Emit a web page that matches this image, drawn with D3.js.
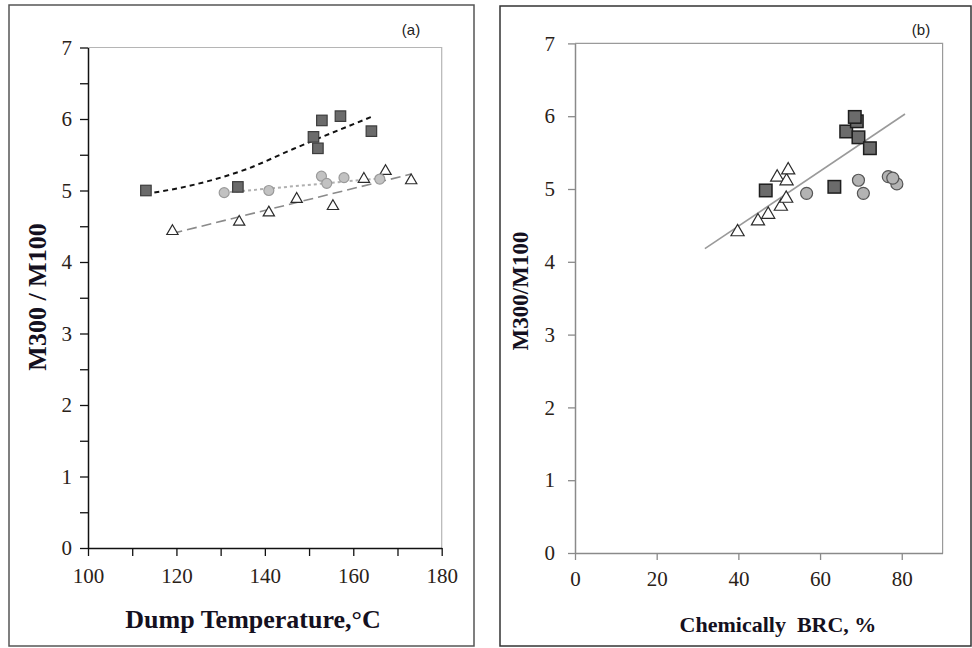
<!DOCTYPE html>
<html>
<head>
<meta charset="utf-8">
<script src="https://cdn.jsdelivr.net/npm/d3@7/dist/d3.min.js"></script>
<style>
  body { margin: 0; background: #fff; }
  text { font-family: "Liberation Serif", "Times New Roman", serif; }
</style>
</head>
<body>
<svg id="chart" width="972" height="648"></svg>
<script>
//Panel (a): M300/M100 against dump temperature
var tempTicks = [100, 110, 120, 130, 140, 150, 160, 170, 180];
var tempSquares = [[113.1, 5.00], [133.9, 5.05], [151.0, 5.75], [152.0, 5.59], [152.9, 5.98], [157.1, 6.04], [164.1, 5.83]];
var tempCircles = [[130.8, 4.97], [140.9, 5.00], [152.8, 5.20], [154.0, 5.10], [157.9, 5.18], [166.0, 5.16]];
var tempTriangles = [[119.1, 4.43], [134.2, 4.56], [140.9, 4.69], [147.2, 4.88], [155.4, 4.78], [162.4, 5.16], [167.3, 5.27], [173.1, 5.14]];
//trend lines
var tempSquareTrend = [[113.0, 4.95], [124.6, 5.09], [135.9, 5.30], [146.4, 5.58], [158.5, 5.89], [164.1, 6.03]];
var tempCircleTrend = [[130.8, 4.97], [166.0, 5.17]];
var tempTriangleTrend = [[119.1, 4.40], [173.1, 5.23]];

//Panel (b): M300/M100 against chemically bound rubber content
var brcTicks = [0, 20, 40, 60, 80];
var brcSquares = [[46.7, 4.98], [63.5, 5.03], [66.4, 5.79], [69.0, 5.93], [68.5, 5.99], [69.4, 5.71], [72.2, 5.56]];
var brcCircles = [[56.7, 4.94], [69.4, 5.12], [70.6, 4.94], [76.7, 5.17], [78.8, 5.07], [77.8, 5.15]];
var brcTriangles = [[39.8, 4.41], [44.8, 4.56], [47.3, 4.65], [50.4, 4.76], [51.7, 4.87], [49.5, 5.16], [51.8, 5.11], [52.2, 5.26]];
var brcTrend = [[31.8, 4.18], [80.8, 6.03]];

var ratioTicks = [0, 1, 2, 3, 4, 5, 6, 7];
var ratioHalfTicks = d3.range(0, 7.01, 0.5);

var svg = d3.select('#chart');

//Draw one panel
function drawPanel(p) {
  var g = svg.append('g');

  //outer frame
  g.append('rect')
    .attr('x', p.frame[0]).attr('y', p.frame[1])
    .attr('width', p.frame[2]).attr('height', p.frame[3])
    .attr('fill', 'none')
    .attr('stroke', p.frameColor)
    .attr('stroke-width', 1.5);

  var x = d3.scaleLinear().domain(p.xDomain).range(p.xRange);
  var y = d3.scaleLinear().domain([0, 7]).range(p.yRange);

  //top and right border of the plot area
  g.append('path')
    .attr('d', 'M' + x(p.xDomain[0]) + ',' + y(7) + 'H' + x(p.xDomain[1]) + 'V' + y(0))
    .attr('fill', 'none')
    .attr('stroke', p.boxColor)
    .attr('stroke-width', 1.2);

  //axes
  var xAxis = d3.axisBottom(x)
    .tickValues(p.xTicks)
    .tickFormat(function(d) { return d % 20 === 0 ? d : ''; })
    .tickSize(p.tickLen)
    .tickPadding(p.xPad)
    .tickSizeOuter(0);
  var yAxis = d3.axisLeft(y)
    .tickValues(p.yTicks)
    .tickFormat(function(d) { return d % 1 === 0 ? d : ''; })
    .tickSize(p.tickLen)
    .tickPadding(p.yPad)
    .tickSizeOuter(0);

  var gx = g.append('g').attr('transform', 'translate(0,' + y(0) + ')').call(xAxis);
  var gy = g.append('g').attr('transform', 'translate(' + x(p.xDomain[0]) + ',0)').call(yAxis);
  [gx, gy].forEach(function(a) {
    a.attr('font-family', 'Liberation Serif').attr('font-size', p.tickFont);
    a.select('.domain').attr('stroke', p.axisColor).attr('stroke-width', 1.5);
    a.selectAll('.tick line').attr('stroke', p.axisColor).attr('stroke-width', 1.3);
    a.selectAll('.tick text')
      .attr('fill', '#2a2218')
      .attr('font-family', 'Liberation Serif')
      .attr('font-size', p.tickFont);
  });

  //trend lines
  var line = d3.line()
    .x(function(d) { return x(d[0]); })
    .y(function(d) { return y(d[1]); });
  p.trends.forEach(function(t) {
    g.append('path')
      .datum(t.data)
      .attr('d', line.curve(t.curve || d3.curveLinear))
      .attr('fill', 'none')
      .attr('stroke', t.color)
      .attr('stroke-width', t.width)
      .attr('stroke-dasharray', t.dash);
  });

  //markers: triangles, circles, squares
  g.selectAll('.tri')
    .data(p.triangles)
    .enter().append('path')
    .attr('class', 'tri')
    .attr('d', d3.symbol().type(d3.symbolTriangle).size(p.triSize))
    .attr('transform', function(d) { return 'translate(' + x(d[0]) + ',' + y(d[1]) + ')'; })
    .attr('fill', '#fff')
    .attr('stroke', '#2b2b2b')
    .attr('stroke-width', 1.2);

  g.selectAll('.dot')
    .data(p.circles)
    .enter().append('circle')
    .attr('class', 'dot')
    .attr('cx', function(d) { return x(d[0]); })
    .attr('cy', function(d) { return y(d[1]); })
    .attr('r', p.circleR)
    .attr('fill', p.circleFill)
    .attr('stroke', p.circleStroke)
    .attr('stroke-width', 1.2);

  g.selectAll('.sq')
    .data(p.squares)
    .enter().append('rect')
    .attr('class', 'sq')
    .attr('x', function(d) { return x(d[0]) - p.squareSide / 2; })
    .attr('y', function(d) { return y(d[1]) - p.squareSide / 2; })
    .attr('width', p.squareSide)
    .attr('height', p.squareSide)
    .attr('fill', '#6b6b6b')
    .attr('stroke', p.squareStroke)
    .attr('stroke-width', p.squareStrokeWidth);

  //axis titles
  g.append('text')
    .attr('x', p.xTitlePos[0]).attr('y', p.xTitlePos[1])
    .attr('text-anchor', 'middle')
    .attr('font-weight', 'bold')
    .attr('font-size', p.xTitleFont)
    .attr('fill', '#141020')
    .style('white-space', 'pre')
    .text(p.xTitle);
  g.append('text')
    .attr('transform', 'translate(' + p.yTitlePos[0] + ',' + p.yTitlePos[1] + ') rotate(-90)')
    .attr('text-anchor', 'middle')
    .attr('dy', '0.35em')
    .attr('font-weight', 'bold')
    .attr('font-size', p.yTitleFont)
    .attr('fill', '#141020')
    .text(p.yTitle);

  //panel letter
  g.append('text')
    .attr('x', p.letterPos[0]).attr('y', p.letterPos[1])
    .attr('text-anchor', 'middle')
    .style('font-family', '"Liberation Sans", Arial, sans-serif')
    .attr('font-size', 15)
    .attr('fill', '#222')
    .text(p.letter);
}

drawPanel({
  frame: [9, 5, 465, 641], frameColor: '#555',
  xDomain: [100, 180], xRange: [88, 441.7], yRange: [548, 47.5],
  xTicks: tempTicks, yTicks: ratioHalfTicks,
  boxColor: '#b5b5b5', axisColor: '#111',
  tickLen: 8, xPad: 12, yPad: 8, tickFont: 21,
  trends: [
    {data: tempSquareTrend, color: '#111', width: 2, dash: '5,4', curve: d3.curveMonotoneX},
    {data: tempCircleTrend, color: '#b0b0b0', width: 2, dash: '3,3'},
    {data: tempTriangleTrend, color: '#8a8a8a', width: 1.6, dash: '10,5'}
  ],
  squares: tempSquares, circles: tempCircles, triangles: tempTriangles,
  squareSide: 10.5, squareStroke: '#3c3c3c', squareStrokeWidth: 1.2,
  circleR: 5, circleFill: '#c2c2c2', circleStroke: '#9a9a9a',
  triSize: 55,
  xTitle: 'Dump Temperature,\u00b0C', xTitlePos: [253, 628], xTitleFont: 26,
  yTitle: 'M300 / M100', yTitlePos: [37, 297], yTitleFont: 26,
  letter: '(a)', letterPos: [411, 35]
});

drawPanel({
  frame: [500, 6, 471, 640], frameColor: '#333',
  xDomain: [0, 90], xRange: [575, 942.6], yRange: [553, 43.4],
  xTicks: brcTicks, yTicks: ratioTicks,
  boxColor: '#9a9a9a', axisColor: '#8a8a8a',
  tickLen: 7, xPad: 11, yPad: 13, tickFont: 21,
  trends: [
    {data: brcTrend, color: '#9a9a9a', width: 1.6, dash: null}
  ],
  squares: brcSquares, circles: brcCircles, triangles: brcTriangles,
  squareSide: 12.5, squareStroke: '#1e1e1e', squareStrokeWidth: 1.5,
  circleR: 6, circleFill: '#b3b3b3', circleStroke: '#555',
  triSize: 75,
  xTitle: 'Chemically  BRC, %', xTitlePos: [778, 632], xTitleFont: 22,
  yTitle: 'M300/M100', yTitlePos: [520, 291], yTitleFont: 23,
  letter: '(b)', letterPos: [921, 35]
});
</script>
</body>
</html>
